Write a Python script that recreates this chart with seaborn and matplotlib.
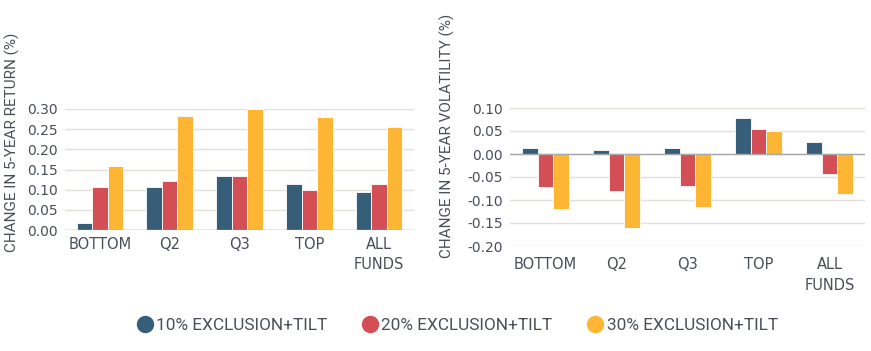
import matplotlib
matplotlib.use("Agg")
import matplotlib.pyplot as plt
from matplotlib.lines import Line2D
import seaborn as sns
import pandas as pd

categories = ["BOTTOM", "Q2", "Q3", "TOP", "ALL\nFUNDS"]
series = ["10% EXCLUSION+TILT", "20% EXCLUSION+TILT", "30% EXCLUSION+TILT"]
return_10 = [0.017, 0.107, 0.135, 0.115, 0.093]
return_20 = [0.107, 0.121, 0.135, 0.099, 0.115]
return_30 = [0.159, 0.283, 0.299, 0.280, 0.255]
vol_10 = [0.012, 0.008, 0.012, 0.078, 0.027]
vol_20 = [-0.072, -0.081, -0.070, 0.054, -0.043]
vol_30 = [-0.120, -0.161, -0.116, 0.051, -0.086]
colors = ["#365E78", "#D34E55", "#FDB634"]
text_color = "#4A4F57"

def long_df(vals):
    rows = []
    for s, v in zip(series, vals):
        for c, x in zip(categories, v):
            rows.append({"cat": c, "series": s, "val": x})
    return pd.DataFrame(rows)

df_ret = long_df([return_10, return_20, return_30])
df_vol = long_df([vol_10, vol_20, vol_30])

sns.set_theme(style="white")
plt.rcParams["font.family"] = ["Roboto", "DejaVu Sans"]

fig = plt.figure(figsize=(8.71, 3.51), dpi=100)
W, H = 871, 351
ax1 = fig.add_axes([65 / W, (H - 230) / H, 349 / W, 121 / H])
ax2 = fig.add_axes([510 / W, (H - 246) / H, 355 / W, 138 / H])

for ax, df, ylim, ticks, lab, xpad, lc in [
    (ax1, df_ret, (0, 0.30), [0, 0.05, 0.10, 0.15, 0.20, 0.25, 0.30],
     "CHANGE IN 5-YEAR RETURN (%)", 5, (-0.13, 0.727)),
    (ax2, df_vol, (-0.20, 0.10), [-0.20, -0.15, -0.10, -0.05, 0, 0.05, 0.10],
     "CHANGE IN 5-YEAR VOLATILITY (%)", 8, (-0.155, 0.797)),
]:
    sns.barplot(data=df, x="cat", y="val", hue="series", palette=colors,
                width=0.67, ax=ax, legend=False, edgecolor="white", linewidth=0.6,
                saturation=1)
    ax.set_ylim(*ylim)
    ax.set_yticks(ticks)
    ax.set_yticklabels([f"{t:.2f}".replace("-0.00", "0.00") for t in ticks])
    ax.set_axisbelow(True)
    ax.yaxis.grid(True, color="#E3E0DC", linewidth=1)
    ax.axhline(0, color="#A8A8A8", linewidth=1, zorder=3)
    for sp in ax.spines.values():
        sp.set_visible(False)
    ax.tick_params(axis="y", length=0, pad=5, colors=text_color,
                   labelsize=10, labelfontfamily="DejaVu Sans")
    ax.tick_params(axis="x", length=0, pad=xpad, colors=text_color,
                   labelsize=10.5, labelfontfamily="DejaVu Sans")
    for t in ax.get_xticklabels():
        t.set_linespacing(1.45)
    ax.set_xlabel("")
    ax.set_ylabel(lab, fontsize=11, color=text_color)
    ax.yaxis.set_label_coords(*lc)
    ax.set_xlim(-0.5, 4.5)

handles = [Line2D([0], [0], marker="o", linestyle="", markersize=11.5,
                  markerfacecolor=c, markeredgecolor=c) for c in colors]
fig.legend(handles, series, loc="center", bbox_to_anchor=(456 / W, 1 - 325 / H),
           ncol=3, frameon=False, fontsize=12.4, labelcolor=text_color,
           handletextpad=0.05, columnspacing=1.9, handlelength=1.2)

fig.savefig("out.png", dpi=100)
